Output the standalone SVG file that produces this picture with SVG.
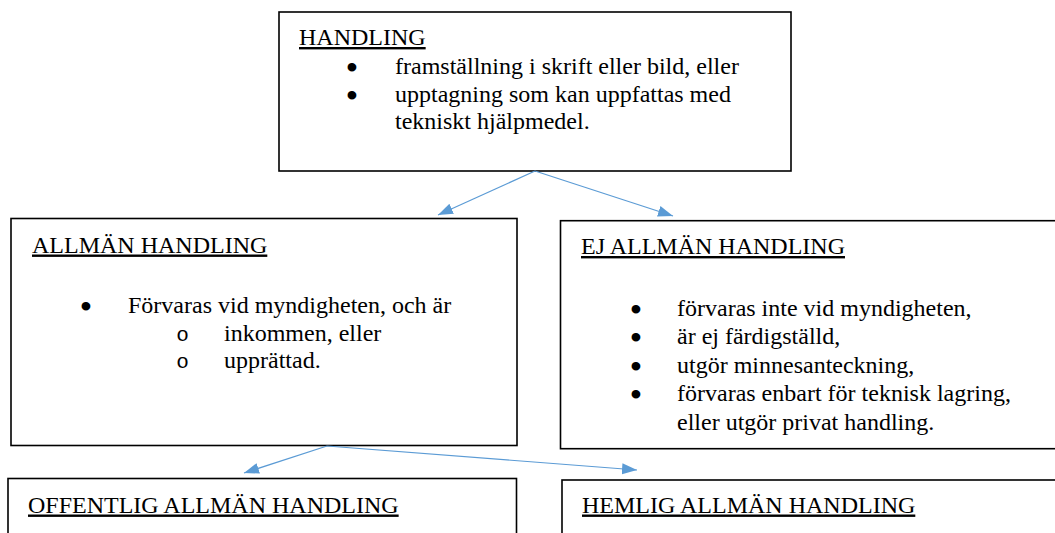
<svg xmlns="http://www.w3.org/2000/svg" width="1055" height="533" viewBox="0 0 1055 533">
<style>
  .box { fill: #ffffff; stroke: #000000; stroke-width: 1.6; }
  .t { font-family: "Liberation Serif", "Times New Roman", serif; font-size: 24px; fill: #000000; }
  .h { text-decoration: underline; }
  .b { font-family: "Liberation Serif", "Times New Roman", serif; font-size: 24px; font-weight: bold; text-anchor: middle; fill: #000000; stroke: #000000; stroke-width: 2.2; stroke-linejoin: round; }
  .o { font-family: "Liberation Mono", "Courier New", monospace; font-size: 21px; text-anchor: middle; fill: #000000; }
  .c { stroke: #5B9BD5; stroke-width: 1.2; fill: none; marker-end: url(#arr); }
</style>
<defs>
  <marker id="arr" markerUnits="userSpaceOnUse" markerWidth="16" markerHeight="12" refX="15" refY="5.5" orient="auto">
    <path d="M0,0 L15,5.5 L0,11 z" fill="#5B9BD5"/>
  </marker>
</defs>
<rect width="1055" height="533" fill="#ffffff"/>

<g id="handling">
  <rect class="box" x="279" y="12" width="512" height="159"/>
  <text class="t h" x="299" y="45">HANDLING</text>
  <text class="b" x="352" y="75">•</text>
  <text class="t" x="395" y="74">framställning i skrift eller bild, eller</text>
  <text class="b" x="352" y="103">•</text>
  <text class="t" x="395" y="102">upptagning som kan uppfattas med</text>
  <text class="t" x="395" y="129">tekniskt hjälpmedel.</text>
</g>

<g id="allman-handling">
  <rect class="box" x="11" y="218.5" width="506" height="227"/>
  <text class="t h" x="32" y="252.5">ALLMÄN HANDLING</text>
  <text class="b" x="86" y="314">•</text>
  <text class="t" x="128" y="313">Förvaras vid myndigheten, och är</text>
  <text class="o" x="182.5" y="341">o</text>
  <text class="t" x="224" y="341">inkommen, eller</text>
  <text class="o" x="182.5" y="367.5">o</text>
  <text class="t" x="224" y="367.5">upprättad.</text>
</g>

<g id="ej-allman-handling">
  <rect class="box" x="560.5" y="220.7" width="510" height="228"/>
  <text class="t h" x="581" y="254">EJ ALLMÄN HANDLING</text>
  <text class="b" x="636" y="316.5">•</text>
  <text class="t" x="677" y="315.5">förvaras inte vid myndigheten,</text>
  <text class="b" x="636" y="345">•</text>
  <text class="t" x="677" y="344">är ej färdigställd,</text>
  <text class="b" x="636" y="373.5">•</text>
  <text class="t" x="677" y="372.5">utgör minnesanteckning,</text>
  <text class="b" x="636" y="402">•</text>
  <text class="t" x="677" y="401">förvaras enbart för teknisk lagring,</text>
  <text class="t" x="677" y="429.5">eller utgör privat handling.</text>
</g>

<g id="offentlig-allman-handling">
  <rect class="box" x="8" y="478.5" width="508.5" height="80"/>
  <text class="t h" x="28" y="512.5">OFFENTLIG ALLMÄN HANDLING</text>
</g>

<g id="hemlig-allman-handling">
  <rect class="box" x="562" y="480" width="510" height="80"/>
  <text class="t h" x="582" y="512.5">HEMLIG ALLMÄN HANDLING</text>
</g>

<g id="connectors">
  <line class="c" x1="535" y1="171" x2="438" y2="215"/>
  <line class="c" x1="535" y1="171" x2="673" y2="216"/>
  <line class="c" x1="327" y1="446" x2="244" y2="473"/>
  <line class="c" x1="327" y1="446" x2="637" y2="470"/>
</g>
</svg>
